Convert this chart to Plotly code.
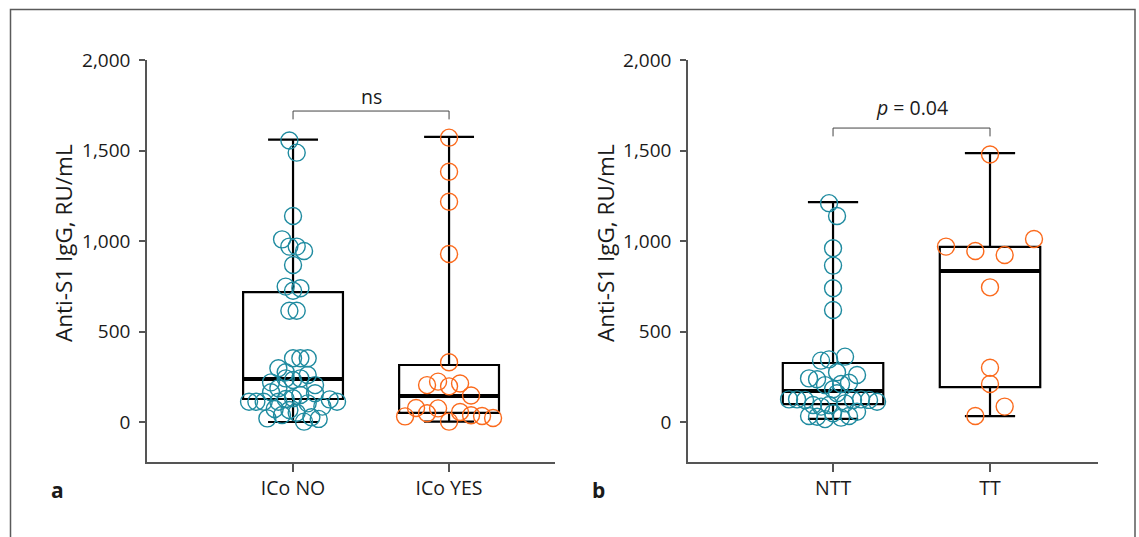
import plotly.graph_objects as go

W, H = 1139, 537

# ---------------- data (listed left-to-right) ----------------
panel_a_categories = ["ICo NO", "ICo YES"]
panel_b_categories = ["NTT", "TT"]

ico_no = [112, 219, 112, 297, 112, 20, 1009, 275, 186, 72, 1555, 969, 748, 352, 241,
          164, 112, 39, 615, 1488, 1138, 867, 352, 232, 127, 66, 969, 725, 615, 945,
          739, 352, 241, 131, 51, 2, 149, 103, 26, 260, 159, 85, 17, 204, 125, 112]
ico_yes = [31, 77, 48, 204, 75, 1571, 1383, 1217, 928, 330, 223, 2, 197, 55, 213,
           37, 146, 33, 22]
ntt = [125, 241, 125, 33, 29, 339, 236, 122, 346, 94, 85, 1209, 204, 16, 960, 864,
       739, 619, 275, 181, 94, 1138, 159, 103, 48, 210, 122, 24, 361, 217, 125, 33,
       260, 122, 57, 112]
tt = [969, 945, 33, 1478, 744, 300, 210, 923, 85, 1011]

# box statistics: q1, median, q3, lower whisker, upper whisker
box_q1 = {"ICo NO": 127, "ICo YES": 50, "NTT": 99, "TT": 193}
box_median = {"ICo NO": 238, "ICo YES": 144, "NTT": 171, "TT": 834}
box_q3 = {"ICo NO": 718, "ICo YES": 315, "NTT": 326, "TT": 967}
box_low = {"ICo NO": 0, "ICo YES": 2, "NTT": 17, "TT": 33}
box_high = {"ICo NO": 1560, "ICo YES": 1575, "NTT": 1215, "TT": 1486}

y_ticks = [0, 500, 1000, 1500, 2000]
y_tick_labels = ["0", "500", "1,000", "1,500", "2,000"]
y_title = "Anti-S1 IgG, RU/mL"
sig_a = "ns"
sig_b = "<i>p</i> = 0.04"

# ---------------- style / layout constants ----------------
TEAL = "#1f8ba0"
ORANGE = "#fb6a1c"
FONT = "Open Sans"
TXT = "#1a1a1a"
AX = "#555555"

Y_RANGE = [-221, 2000]
Y_DOM = [1 - 462 / H, 1 - 60 / H]
XA_DOM = [147 / W, 555 / W]
XB_DOM = [688 / W, 1098 / W]
XA_RANGE = [-0.936, 1.679]
XB_RANGE = [-0.924, 1.688]
BOX_W = 0.64
DIAM = 17
SPREAD_PX = 88      # width used by the widest row of points
ROW_PX = 16.2       # values closer than this (in px) share a row

px_per_val = (Y_DOM[1] - Y_DOM[0]) * H / (Y_RANGE[1] - Y_RANGE[0])


def row_scatter(values, xdom, xrange):
    """Prism-like column scatter: group similar values into rows, centre each row."""
    px_per_x = (xdom[1] - xdom[0]) * W / (xrange[1] - xrange[0])
    order = sorted(range(len(values)), key=lambda i: -values[i])
    rows, cur, start = [], [], None
    for i in order:
        if cur and (start - values[i]) * px_per_val < ROW_PX:
            cur.append(i)
        else:
            if cur:
                rows.append(cur)
            cur, start = [i], values[i]
    if cur:
        rows.append(cur)
    nmax = max(len(r) for r in rows)
    step = min(SPREAD_PX / max(nmax - 1, 1), 2 * DIAM)
    out = [0.0] * len(values)
    for r in rows:
        r = sorted(r)  # keep data (left-to-right) order
        n = len(r)
        for k, i in enumerate(r):
            out[i] = (k - (n - 1) / 2) * step / px_per_x
    return out


fig = go.Figure()


def add_group(name, pos, vals, color, xaxis, yaxis, xdom, xrange):
    fig.add_trace(go.Box(
        x=[pos], q1=[box_q1[name]], median=[box_median[name]], q3=[box_q3[name]],
        lowerfence=[box_low[name]], upperfence=[box_high[name]],
        width=BOX_W, whiskerwidth=0.5, boxpoints=False,
        line=dict(color="black", width=2.2), fillcolor="rgba(0,0,0,0)",
        xaxis=xaxis, yaxis=yaxis, showlegend=False, hoverinfo="skip"))
    fig.add_trace(go.Scatter(
        x=[pos - BOX_W / 2, pos + BOX_W / 2],
        y=[box_median[name], box_median[name]], mode="lines",
        line=dict(color="black", width=4), xaxis=xaxis, yaxis=yaxis,
        showlegend=False, hoverinfo="skip"))
    offs = row_scatter(vals, xdom, xrange)
    fig.add_trace(go.Scatter(
        x=[pos + o for o in offs], y=vals, mode="markers",
        marker=dict(symbol="circle-open", size=DIAM, color=color,
                    line=dict(width=1.4, color=color)),
        xaxis=xaxis, yaxis=yaxis, showlegend=False))


add_group("ICo NO", 0, ico_no, TEAL, "x", "y", XA_DOM, XA_RANGE)
add_group("ICo YES", 1, ico_yes, ORANGE, "x", "y", XA_DOM, XA_RANGE)
add_group("NTT", 0, ntt, TEAL, "x2", "y2", XB_DOM, XB_RANGE)
add_group("TT", 1, tt, ORANGE, "x2", "y2", XB_DOM, XB_RANGE)

xaxis_common = dict(showline=True, linecolor=AX, linewidth=1.5, ticks="outside",
                    ticklen=8, tickwidth=1.5, tickcolor=AX, showgrid=False,
                    zeroline=False, tickvals=[0, 1], automargin=False,
                    tickfont=dict(family=FONT, size=19.5, color=TXT))
yaxis_common = dict(showline=True, linecolor=AX, linewidth=1.5, ticks="outside",
                    ticklen=6, tickwidth=1.5, tickcolor=AX, showgrid=False,
                    zeroline=False, range=Y_RANGE, domain=Y_DOM, automargin=False,
                    tickvals=y_ticks, ticktext=y_tick_labels, ticklabelstandoff=5,
                    tickfont=dict(family=FONT, size=19, color=TXT))

fig.update_layout(
    width=W, height=H, margin=dict(l=0, r=0, t=0, b=0, autoexpand=False),
    paper_bgcolor="white", plot_bgcolor="white",
    xaxis=dict(xaxis_common, domain=XA_DOM, range=XA_RANGE,
               ticktext=panel_a_categories, anchor="y"),
    yaxis=dict(yaxis_common, anchor="x"),
    xaxis2=dict(xaxis_common, domain=XB_DOM, range=XB_RANGE,
                ticktext=panel_b_categories, anchor="y2"),
    yaxis2=dict(yaxis_common, anchor="x2"),
    font=dict(family=FONT, color=TXT),
)

shapes = [
    # outer frame
    dict(type="rect", xref="paper", yref="paper", x0=10.5 / W, x1=1135 / W,
         y0=-0.1, y1=1 - 9.5 / H, line=dict(color="#5a5a5a", width=1.5)),
]
for xr, yr, yb, yt in [("x", "y", 1718, 1672), ("x2", "y2", 1624, 1578)]:
    shapes.append(dict(type="path", xref=xr, yref=yr,
                       path=f"M0,{yt} L0,{yb} L1,{yb} L1,{yt}",
                       line=dict(color="#444", width=1)))
fig.update_layout(shapes=shapes)

common_ann = dict(showarrow=False, xanchor="center", yanchor="middle")
ann = [
    dict(common_ann, text=sig_a, x=0.5, y=1800, xref="x", yref="y",
         font=dict(size=19.5, family=FONT, color=TXT)),
    dict(common_ann, text=sig_b, x=0.5, y=1737, xref="x2", yref="y2",
         font=dict(size=19.5, family=FONT, color=TXT)),
    dict(common_ann, text=y_title, x=63 / W, y=1 - 243 / H, xref="paper", yref="paper",
         textangle=-90, font=dict(size=22.5, family=FONT, color=TXT)),
    dict(common_ann, text=y_title, x=605 / W, y=1 - 243 / H, xref="paper", yref="paper",
         textangle=-90, font=dict(size=22.5, family=FONT, color=TXT)),
    dict(common_ann, text="<b>a</b>", x=57 / W, y=1 - 490 / H, xref="paper", yref="paper",
         font=dict(size=21, family=FONT, color=TXT)),
    dict(common_ann, text="<b>b</b>", x=598 / W, y=1 - 490 / H, xref="paper", yref="paper",
         font=dict(size=21, family=FONT, color=TXT)),
]
fig.update_layout(annotations=ann)

fig.write_html(
    "out.html",
    config={"displayModeBar": False},
    post_script="document.body.style.margin='0';document.body.style.padding='0';"
                "document.documentElement.style.overflow='hidden';",
)
